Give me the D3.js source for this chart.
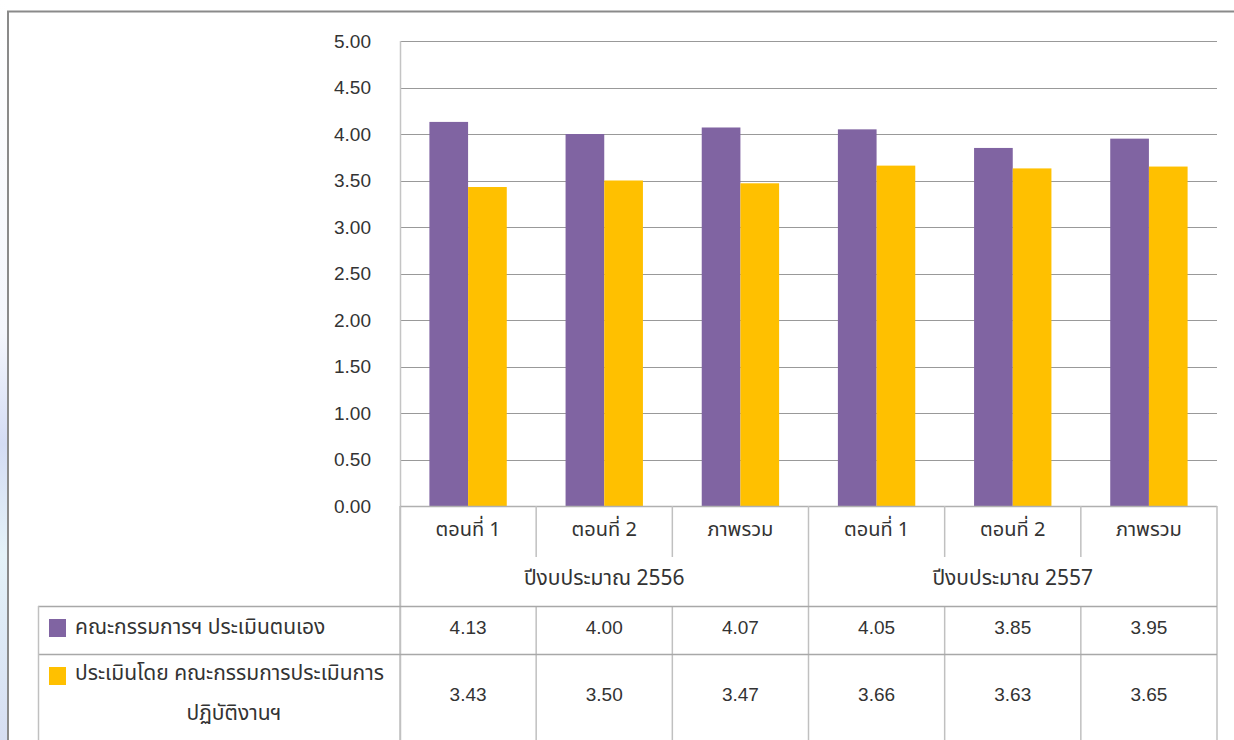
<!DOCTYPE html>
<html><head><meta charset="utf-8">
<script src="https://cdn.jsdelivr.net/npm/d3@7"></script>
<style>
html,body{margin:0;padding:0;background:#fff;}
svg{display:block;font-family:"Noto Sans","Noto Sans Thai","DejaVu Sans",sans-serif;}
</style></head>
<body><svg id="chart" width="1234" height="740"></svg>
<script>
const groups = ["ปีงบประมาณ 2556", "ปีงบประมาณ 2557"];
const subCategories = ["ตอนที่ 1", "ตอนที่ 2", "ภาพรวม"];
const seriesNames = ["คณะกรรมการฯ ประเมินตนเอง", "ประเมินโดย คณะกรรมการประเมินการ", "ปฏิบัติงานฯ"];
const selfValues = [4.13, 4.00, 4.07, 4.05, 3.85, 3.95];
const committeeValues = [3.43, 3.50, 3.47, 3.66, 3.63, 3.65];
const yTicks = [0, 0.5, 1, 1.5, 2, 2.5, 3, 3.5, 4, 4.5, 5];
const colors = ["#8064A2", "#FFC000"];

(function(){
const categories = [];
groups.forEach((g, gi) => subCategories.forEach((s, si) => categories.push({key: gi + "-" + si, group: g, gi, label: s})));
const series = [selfValues, committeeValues];

const svg = d3.select("#chart");
const pLeft = 400, pRight = 1217, pTop = 41, pBottom = 506;
const textColor = "#333";
const fsNum = 19, fsThai = 21;
const numFont = "Liberation Sans, Arial, sans-serif";

// left background strip
const defs = svg.append("defs");
const lg = defs.append("linearGradient").attr("id", "bgstrip").attr("x1", 0).attr("y1", 0).attr("x2", 0).attr("y2", 1);
lg.append("stop").attr("offset", "0%").attr("stop-color", "#ffffff");
lg.append("stop").attr("offset", "45%").attr("stop-color", "#f4f6fc");
lg.append("stop").attr("offset", "60%").attr("stop-color", "#d4dcf4");
lg.append("stop").attr("offset", "75%").attr("stop-color", "#e4f2f8");
lg.append("stop").attr("offset", "100%").attr("stop-color", "#d6def2");
svg.append("rect").attr("x", 0).attr("y", 0).attr("width", 7).attr("height", 740).attr("fill", "url(#bgstrip)");

// frame
svg.append("line").attr("x1", 7).attr("x2", 1234).attr("y1", 11.5).attr("y2", 11.5).attr("stroke", "#8a8a8a").attr("stroke-width", 2);
svg.append("line").attr("x1", 8).attr("x2", 8).attr("y1", 11).attr("y2", 740).attr("stroke", "#8a8a8a").attr("stroke-width", 2);

const y = d3.scaleLinear().domain([0, 5]).range([pBottom, pTop]);
const x = d3.scaleBand().domain(categories.map(d => d.key)).range([pLeft, pRight]).paddingInner(0).paddingOuter(0);
const x1 = d3.scaleBand().domain([0, 1]).range([0, x.bandwidth()]).paddingInner(0).paddingOuter(0.76);

// gridlines + y labels
const yAxis = d3.axisLeft(y).tickValues(yTicks).tickFormat(d3.format(".2f")).tickSize(-(pRight - pLeft)).tickPadding(29);
const yg = svg.append("g").attr("transform", `translate(${pLeft},0)`).call(yAxis);
yg.select(".domain").remove();
yg.selectAll(".tick line").attr("stroke", "#999").attr("stroke-width", 1).attr("shape-rendering", "crispEdges");
yg.selectAll(".tick text").attr("fill", textColor).attr("font-size", fsNum).attr("font-family", numFont);

// bars
const barG = svg.append("g");
categories.forEach((c, i) => {
  series.forEach((vals, si) => {
    barG.append("rect")
      .attr("x", x(c.key) + x1(si))
      .attr("y", y(vals[i]))
      .attr("width", x1.bandwidth())
      .attr("height", y(0) - y(vals[i]))
      .attr("fill", colors[si]);
  });
});

// axis line vertical
svg.append("line").attr("x1", pLeft + 0.5).attr("x2", pLeft + 0.5).attr("y1", pTop).attr("y2", 740).attr("stroke", "#c4c4c4").attr("stroke-width", 1.5);

// x axis baseline
svg.append("line").attr("x1", pLeft).attr("x2", pRight).attr("y1", pBottom + 0.5).attr("y2", pBottom + 0.5).attr("stroke", "#b0b0b0").attr("stroke-width", 1.5);

const rowTop1 = 606, rowTop2 = 654, catLabelBottom = 557;
const lineColor = "#a8a8a8", vColor = "#c0c0c0";

// vertical separators
const bounds = categories.map(c => x(c.key)).concat([pRight]);
bounds.forEach((bx, i) => {
  const isGroupEdge = (i % subCategories.length === 0);
  if (isGroupEdge) {
    svg.append("line").attr("x1", bx).attr("x2", bx).attr("y1", pBottom).attr("y2", 740).attr("stroke", vColor).attr("stroke-width", 1.5);
  } else {
    svg.append("line").attr("x1", bx).attr("x2", bx).attr("y1", pBottom).attr("y2", catLabelBottom).attr("stroke", vColor).attr("stroke-width", 1.5);
    svg.append("line").attr("x1", bx).attr("x2", bx).attr("y1", rowTop1).attr("y2", 740).attr("stroke", vColor).attr("stroke-width", 1.5);
  }
});
// table horizontal lines
[rowTop1, rowTop2].forEach(yy => {
  svg.append("line").attr("x1", 38).attr("x2", pRight).attr("y1", yy + 0.5).attr("y2", yy + 0.5).attr("stroke", lineColor).attr("stroke-width", 1.5);
});
svg.append("line").attr("x1", 38.5).attr("x2", 38.5).attr("y1", rowTop1).attr("y2", 740).attr("stroke", vColor).attr("stroke-width", 1.5);

// category labels
categories.forEach(c => {
  svg.append("text").attr("x", x(c.key) + x.bandwidth() / 2).attr("y", 529).attr("dy", "0.35em")
    .attr("text-anchor", "middle").attr("font-size", 20).attr("fill", textColor).text(c.label);
});
// group labels
groups.forEach((g, gi) => {
  const first = categories.find(c => c.gi === gi), last = categories.filter(c => c.gi === gi).pop();
  const cx = (x(first.key) + x(last.key) + x.bandwidth()) / 2;
  svg.append("text").attr("x", cx).attr("y", 578).attr("dy", "0.35em")
    .attr("text-anchor", "middle").attr("font-size", fsThai).attr("fill", textColor).text(g);
});

// data values
const rowY = [627, 694];
series.forEach((vals, si) => {
  categories.forEach((c, i) => {
    svg.append("text").attr("x", x(c.key) + x.bandwidth() / 2).attr("y", rowY[si]).attr("dy", "0.35em")
      .attr("text-anchor", "middle").attr("font-size", fsNum).attr("fill", textColor)
      .attr("font-family", numFont)
      .text(d3.format(".2f")(vals[i]));
  });
});

// legend
svg.append("rect").attr("x", 49).attr("y", 619).attr("width", 17).attr("height", 18).attr("fill", colors[0]);
svg.append("text").attr("x", 75).attr("y", 627).attr("dy", "0.35em").attr("font-size", fsThai).attr("fill", textColor).text(seriesNames[0]);
svg.append("rect").attr("x", 49).attr("y", 667).attr("width", 17).attr("height", 18).attr("fill", colors[1]);
svg.append("text").attr("x", 75).attr("y", 673).attr("dy", "0.35em").attr("font-size", fsThai).attr("fill", textColor).text(seriesNames[1]);
svg.append("text").attr("x", 234).attr("y", 713).attr("dy", "0.35em").attr("text-anchor", "middle").attr("font-size", fsThai).attr("fill", textColor).text(seriesNames[2]);
})();
</script></body></html>
